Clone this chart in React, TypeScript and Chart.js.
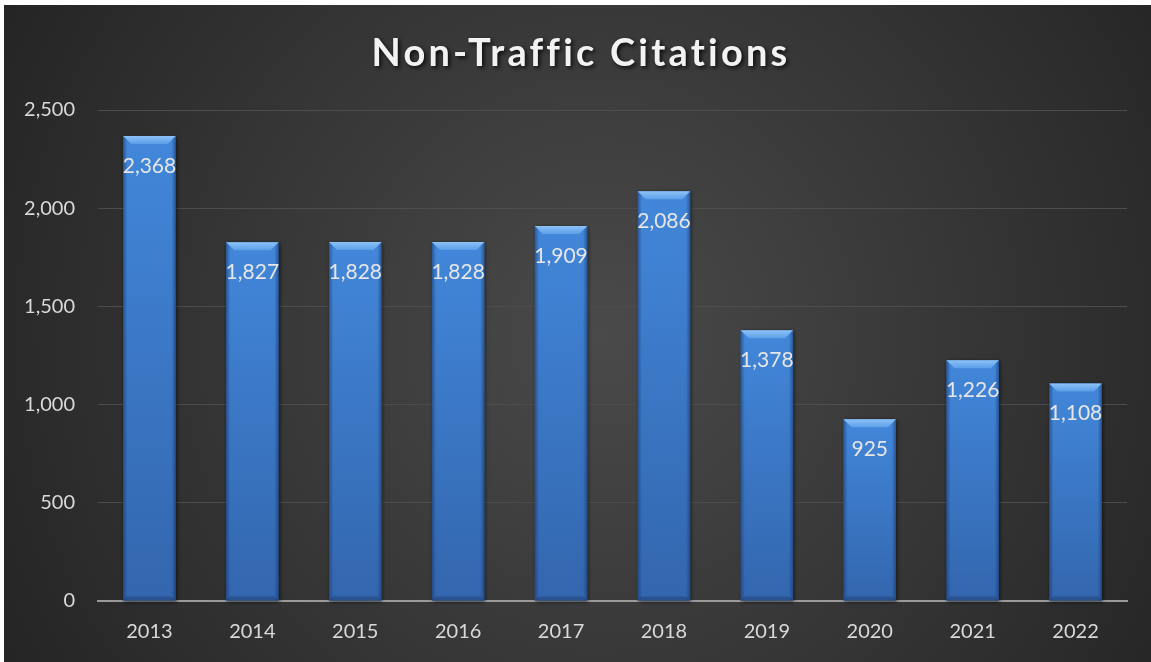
import React, { useEffect, useRef } from "react";
import { Chart, registerables } from "chart.js";

Chart.register(...registerables);

const years = ["2013", "2014", "2015", "2016", "2017", "2018", "2019", "2020", "2021", "2022"];
const citations = [2368, 1827, 1828, 1828, 1909, 2086, 1378, 925, 1226, 1108];
const titleText = "Non-Traffic Citations";

const W = 1147;
const H = 657;
const FONT = "Lato, 'Open Sans', sans-serif";

const bgPlugin = {
  id: "bgPlugin",
  beforeDraw(chart: any) {
    const { ctx } = chart;
    ctx.save();
    const g = ctx.createRadialGradient(W * 0.52, H * 0.5, 0, W * 0.52, H * 0.5, W * 0.62);
    g.addColorStop(0, "#4a4a4a");
    g.addColorStop(1, "#232323");
    ctx.fillStyle = g;
    ctx.fillRect(0, 0, W, H);
    // title
    ctx.font = `bold 38px ${FONT}`;
    (ctx as any).letterSpacing = "3.2px";
    ctx.textAlign = "center";
    ctx.textBaseline = "middle";
    ctx.shadowColor = "rgba(0,0,0,0.8)";
    ctx.shadowBlur = 4;
    ctx.shadowOffsetX = 2;
    ctx.shadowOffsetY = 2;
    ctx.fillStyle = "#f2f2f2";
    ctx.fillText(titleText, 577, 49);
    ctx.restore();
  },
};

const barPlugin = {
  id: "barPlugin",
  afterDatasetsDraw(chart: any) {
    const { ctx } = chart;
    const meta = chart.getDatasetMeta(0);
    ctx.save();
    meta.data.forEach((bar: any, i: number) => {
      const half = bar.width / 2;
      const l = bar.x - half;
      const r = bar.x + half;
      const t = bar.y;
      const b = bar.base;
      // shadow
      ctx.save();
      ctx.shadowColor = "rgba(0,0,0,0.6)";
      ctx.shadowBlur = 4;
      ctx.shadowOffsetX = 1;
      ctx.shadowOffsetY = 1;
      const vg = ctx.createLinearGradient(0, t, 0, b);
      vg.addColorStop(0, "#4287da");
      vg.addColorStop(1, "#3366ae");
      ctx.fillStyle = vg;
      ctx.fillRect(l, t, r - l, b - t);
      ctx.restore();
      // side shading
      const hg = ctx.createLinearGradient(l, 0, r, 0);
      hg.addColorStop(0, "rgba(20,50,100,0.55)");
      hg.addColorStop(0.08, "rgba(20,50,100,0.0)");
      hg.addColorStop(0.92, "rgba(20,50,100,0.0)");
      hg.addColorStop(1, "rgba(20,50,100,0.55)");
      ctx.fillStyle = hg;
      ctx.fillRect(l, t, r - l, b - t);
      // bottom bevel
      ctx.fillStyle = "rgba(20,45,90,0.35)";
      ctx.beginPath();
      ctx.moveTo(l, b);
      ctx.lineTo(r, b);
      ctx.lineTo(r - 4, b - 4);
      ctx.lineTo(l + 4, b - 4);
      ctx.closePath();
      ctx.fill();
      // top bevel
      const bev = 8;
      const tg = ctx.createLinearGradient(0, t, 0, t + bev);
      tg.addColorStop(0, "#8cc2f7");
      tg.addColorStop(1, "#5c9ee8");
      ctx.fillStyle = tg;
      ctx.beginPath();
      ctx.moveTo(l, t);
      ctx.lineTo(r, t);
      ctx.lineTo(r - bev, t + bev);
      ctx.lineTo(l + bev, t + bev);
      ctx.closePath();
      ctx.fill();
      // label
      ctx.font = `21px ${FONT}`;
      ctx.fillStyle = "#e6e6e6";
      ctx.textAlign = "center";
      ctx.textBaseline = "middle";
      ctx.fillText(citations[i].toLocaleString("en-US"), bar.x, t + 30);
    });
    ctx.restore();
  },
};

export default function App() {
  const ref = useRef<HTMLCanvasElement>(null);
  useEffect(() => {
    if (!ref.current) return;
    const chart = new Chart(ref.current, {
      type: "bar",
      data: {
        labels: years,
        datasets: [
          {
            data: citations,
            backgroundColor: "rgba(0,0,0,0)",
            categoryPercentage: 1,
            barPercentage: 0.51,
          },
        ],
      },
      options: {
        responsive: false,
        animation: false,
        layout: { padding: { top: 105, right: 24, left: 0, bottom: 0 } },
        plugins: { legend: { display: false }, tooltip: { enabled: false }, title: { display: false } },
        scales: {
          x: {
            grid: { display: false, drawTicks: false },
            border: { display: true, color: "#9a9a9a", width: 2 },
            ticks: { color: "#d9d9d9", font: { family: FONT, size: 20 }, padding: 19 },
            afterFit: (s: any) => {
              s.height = 61;
            },
          },
          y: {
            min: 0,
            max: 2500,
            ticks: {
              stepSize: 500,
              color: "#d9d9d9",
              font: { family: FONT, size: 20 },
              padding: 23,
              callback: (v: any) => Number(v).toLocaleString("en-US"),
            },
            grid: { color: "#4d4d4d", lineWidth: 1, drawTicks: false },
            border: { display: false },
            afterFit: (s: any) => {
              s.width = 94;
            },
          },
        },
      },
      plugins: [bgPlugin, barPlugin],
    });
    return () => chart.destroy();
  }, []);
  return (
    <div style={{ position: "fixed", left: 0, top: 0, width: 1151, height: 662, background: "#ffffff" }}>
      <canvas
        ref={ref}
        width={W}
        height={H}
        style={{ position: "absolute", left: 4, top: 5, width: W, height: H }}
      />
    </div>
  );
}
